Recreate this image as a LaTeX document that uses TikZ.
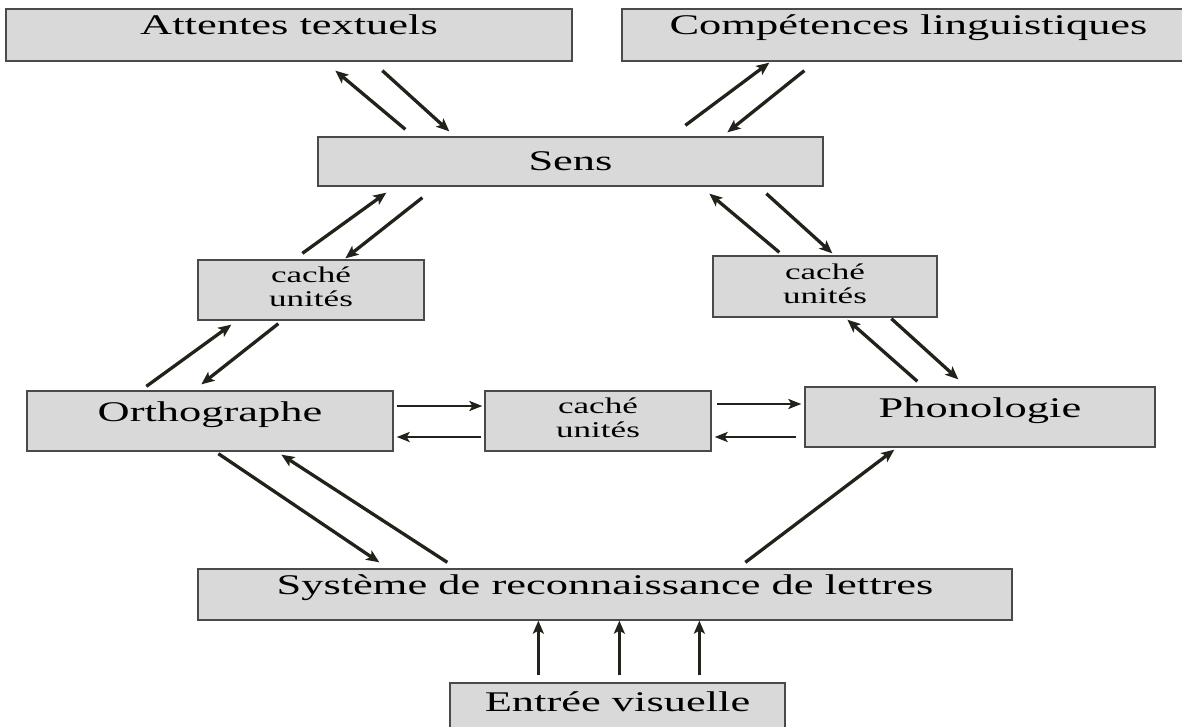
\documentclass[tikz,border=0pt]{standalone}
\usepackage{fontspec}
\setmainfont{Liberation Serif}
\usetikzlibrary{arrows.meta,calc}
\definecolor{boxfill}{HTML}{D9D9D9}
\definecolor{boxline}{HTML}{4A4A4A}
\definecolor{arrcol}{HTML}{22221A}
\newcommand{\wideT}[1]{\scalebox{1.56}[1]{#1}}
\newcommand{\wideS}[1]{\scalebox{1.56}[1]{\begin{tabular}{@{}c@{}}#1\end{tabular}}}
\tikzset{
  box/.style={draw=boxline, fill=boxfill, line width=1.3pt, inner sep=0pt},
  bigtext/.style={font=\fontsize{28.5}{32}\selectfont},
  centred/.style={text height=10pt, text depth=10pt},
  smalltext/.style={font=\fontsize{22.5}{24}\selectfont},
  arr/.style={draw=arrcol, line width=3.3pt, -{Stealth[length=13pt,width=11pt,inset=3pt]}},
  harr/.style={draw=arrcol, line width=2.8pt, -{Stealth[length=13pt,width=10pt,inset=3pt]}}
}
\begin{document}
\begin{tikzpicture}[x=1pt,y=-1pt]
\useasboundingbox (0,0) rectangle (1182,727);
% boxes
\node[box,bigtext,centred,minimum width=566pt,minimum height=52pt] (att) at (289,35) {\wideT{Attentes textuels}};
\node[box,bigtext,centred,minimum width=573pt,minimum height=52pt] (comp) at (908.5,35) {\wideT{Compétences linguistiques}};
\node[box,bigtext,minimum width=505pt,minimum height=49pt] (sens) at (570.5,161.5) {\wideT{Sens}};
\node[box,smalltext,minimum width=226pt,minimum height=60pt] (cl) at (311,290) {\wideS{caché\\unités}};
\node[box,smalltext,minimum width=224pt,minimum height=61pt] (cr) at (825,286.5) {\wideS{caché\\unités}};
\node[box,bigtext,centred,minimum width=366pt,minimum height=60pt] (ortho) at (210,421) {\wideT{Orthographe}};
\node[box,smalltext,minimum width=226pt,minimum height=60pt] (cm) at (598,421) {\wideS{caché\\unités}};
\node[box,bigtext,centred,minimum width=350pt,minimum height=60pt] (phono) at (980,417) {\wideT{Phonologie}};
\node[box,bigtext,centred,minimum width=814pt,minimum height=51pt] (sys) at (605,594.5) {\wideT{Système de reconnaissance de lettres}};
\node[box,bigtext,centred,minimum width=335pt,minimum height=57pt] (ent) at (617.5,711.5) {\wideT{Entrée visuelle}};
% Sens <-> Attentes
\draw[arr] ($(sens.north west)+(88,-7)$) -- ($(att.south west)+(330,9)$);
\draw[arr] ($(att.south west)+(377,9)$) -- ($(sens.north west)+(132,-5)$);
% Sens <-> Competences
\draw[arr] ($(sens.north west)+(368,-11)$) -- ($(comp.south west)+(148,1)$);
\draw[arr] ($(comp.south west)+(183,9)$) -- ($(sens.north west)+(410,-4)$);
% Sens <-> left hidden
\draw[arr] ($(cl.north west)+(105,-6)$) -- ($(sens.south west)+(69,6)$);
\draw[arr] ($(sens.south west)+(105,11)$) -- ($(cl.north west)+(148,-1)$);
% Sens <-> right hidden
\draw[arr] ($(cr.north west)+(67,-3)$) -- ($(sens.south west)+(392,7)$);
\draw[arr] ($(sens.south west)+(449,7)$) -- ($(cr.north west)+(120,-2)$);
% Orthographe <-> left hidden
\draw[arr] ($(ortho.north west)+(120,-4)$) -- ($(cl.south west)+(34,4)$);
\draw[arr] ($(cl.south west)+(81,3)$) -- ($(ortho.north west)+(175,-6)$);
% Orthographe <-> middle hidden
\draw[harr] ($(ortho.east)+(3,-15)$) -- ($(cm.west)+(-2,-15)$);
\draw[harr] ($(cm.west)+(-3,16)$) -- ($(ortho.east)+(3,16)$);
% middle hidden <-> Phonologie
\draw[harr] ($(cm.east)+(5,-17)$) -- ($(phono.west)+(-3,-13)$);
\draw[harr] ($(phono.west)+(-8,20)$) -- ($(cm.east)+(3,16)$);
% Phonologie <-> right hidden
\draw[arr] ($(phono.north west)+(113,-5)$) -- ($(cr.south west)+(135,2)$);
\draw[arr] ($(cr.south west)+(179,1)$) -- ($(phono.north west)+(154,-7)$);
% Orthographe <-> Systeme
\draw[arr] ($(ortho.south west)+(192,2)$) -- ($(sys.north west)+(182,-6)$);
\draw[arr] ($(sys.north west)+(250,-6)$) -- ($(ortho.south west)+(255,3)$);
% Systeme -> Phonologie
\draw[arr] ($(sys.north west)+(548,-6)$) -- ($(phono.south west)+(90,2)$);
% Entree -> Systeme
\draw[arr] ($(ent.north west)+(89,-7)$) -- ($(sys.south west)+(341,0)$);
\draw[arr] ($(ent.north west)+(170,-7)$) -- ($(sys.south west)+(422,0)$);
\draw[arr] ($(ent.north west)+(250,-7)$) -- ($(sys.south west)+(502,0)$);
\end{tikzpicture}
\end{document}
